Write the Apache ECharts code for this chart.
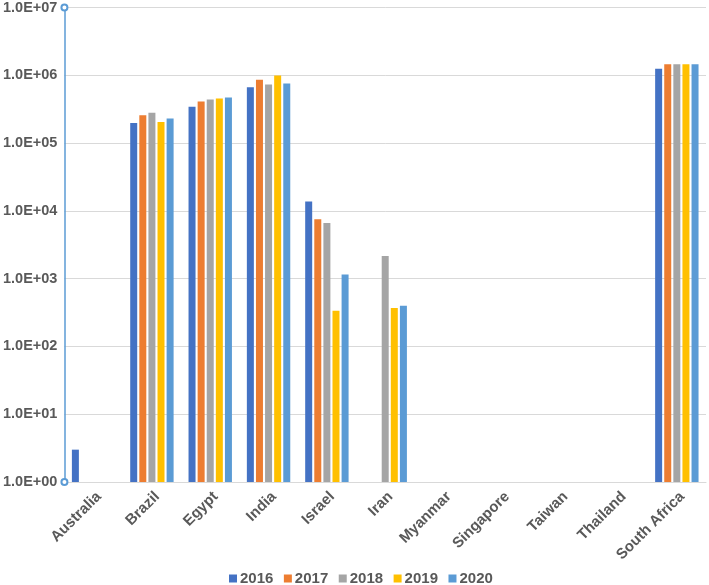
<!DOCTYPE html>
<html>
<head>
<meta charset="utf-8">
<script src="https://cdn.jsdelivr.net/npm/echarts@6/dist/echarts.min.js"></script>
<style>html,body{margin:0;padding:0;background:#fff}#c{width:709px;height:585px}</style>
</head>
<body>
<div id="c"></div>
<script>
const categories = ['Australia','Brazil','Egypt','India','Israel','Iran','Myanmar','Singapore','Taiwan','Thailand','South Africa'];
const years = ['2016','2017','2018','2019','2020'];
const s2016 = [3, 197000, 342000, 667000, 13700, null, null, null, null, null, 1250000];
const s2017 = [null, 257000, 410000, 860000, 7550, null, null, null, null, null, 1450000];
const s2018 = [null, 280000, 439000, 730000, 6600, 2160, null, null, null, null, 1450000];
const s2019 = [null, 204000, 454000, 990000, 335, 369, null, null, null, null, 1450000];
const s2020 = [null, 231000, 470000, 755000, 1150, 398, null, null, null, null, 1450000];
const seriesData = [s2016, s2017, s2018, s2019, s2020];
const colors = ['#4472c4','#ed7d31','#a5a5a5','#ffc000','#5b9bd5'];

function fmt(v){
  const e = Math.round(Math.log10(v));
  const m = v / Math.pow(10, e);
  const sign = e < 0 ? '-' : '+';
  const ea = Math.abs(e);
  return m.toFixed(1) + 'E' + sign + (ea < 10 ? '0' + ea : '' + ea);
}

const chart = echarts.init(document.getElementById('c'));
chart.setOption({
  animation: false,
  color: colors,
  grid: {left: 63, right: 3, top: 7, bottom: 103, containLabel: false},
  legend: {
    bottom: -6, left: 224,
    itemWidth: 8, itemHeight: 8, itemGap: 10.5,
    icon: 'rect',
    textStyle: {fontFamily: 'Liberation Sans', fontWeight: 'bold', fontSize: 15, color: '#595959', padding: [0,0,0,-2]},
    data: years
  },
  xAxis: {
    type: 'category',
    data: categories,
    axisLine: {show: true, lineStyle: {color: '#d9d9d9', width: 1}},
    axisTick: {show: false},
    axisLabel: {interval: 0, rotate: 45, fontFamily: 'Liberation Sans', fontWeight: 'bold', fontSize: 15, color: '#595959', margin: 7, align: 'right', verticalAlign: 'top'}
  },
  yAxis: {
    type: 'log',
    logBase: 10,
    min: 1,
    max: 10000000,
    axisLine: {show: true, lineStyle: {color: '#5b9bd5', width: 1.5}, symbol: ['emptyCircle','emptyCircle'], symbolSize: [6,6], symbolOffset: [0,0]},
    axisTick: {show: false},
    splitLine: {show: true, lineStyle: {color: '#d9d9d9', width: 1}},
    axisLabel: {formatter: fmt, fontFamily: 'Liberation Sans', fontWeight: 'bold', fontSize: 14.5, color: '#595959', margin: 7}
  },
  series: years.map((y, i) => ({
    name: y,
    type: 'bar',
    data: seriesData[i],
    barWidth: 7,
    barGap: '30%',
    itemStyle: {color: colors[i]}
  }))
});
</script>
</body>
</html>
